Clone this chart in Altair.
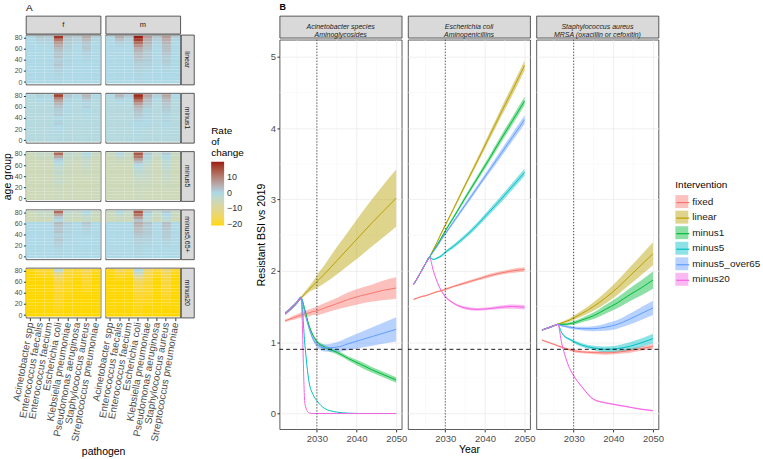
import altair as alt
import pandas as pd

FONT = "Liberation Sans"

# ---------------- Panel A data ----------------
pathogens = ["Acinetobacter spp", "Enterococcus faecalis", "Enterococcus faecium",
             "Escherichia coli", "Klebsiella pneumoniae", "Pseudomonas aeruginosa",
             "Staphylococcus aureus", "Streptococcus pneumoniae"]
ages = [0, 5, 10, 15, 20, 25, 30, 35, 40, 45, 50, 55, 60, 65, 70, 75, 80]
sexes = ["f", "m"]
interventions_a = ["linear", "minus1", "minus5", "minus5,65+", "minus20"]

base_linear = [0, 0, 0, 0, 0, 0, 0, 0, 0, 0, 0, 0, 0, 0, 0, 0, 0]
base_minus1 = [-1, -1, -1, -1, -1, -1, -1, -1, -1, -1, -1, -1, -1, -1, -1, -1, -1]
base_minus5 = [-5.5, -5.5, -5.5, -5.5, -5.5, -5.5, -5.5, -5.5, -5.5, -5.5, -5.5, -5.5, -5.5, -5.5, -5.5, -5.5, -5.5]
base_minus5_65 = [0, 0, 0, 0, 0, 0, 0, 0, 0, 0, 0, 0, 0, -5.5, -5.5, -5.5, -5.5]
base_minus20 = [-21, -21, -21, -21, -21, -21, -21, -21, -21, -21, -21, -21, -21, -21, -21, -21, -21]

trend_f = {
    "Acinetobacter spp":        [0, 0, 0, 0, 0, 0, 0, 0, 0, 0, 0, 0, 0, 0, 0, 0, 0.3],
    "Enterococcus faecalis":    [0, 0, 0, 0, 0, 0, 0, 0, 0, 0, 0, 0, 0, 0, 0.5, 1, 2],
    "Enterococcus faecium":     [0, 0, 0, 0, 0, 0, 0, 0, 0, 0, 0, 0, 0, 0, 0.5, 1, 1.5],
    "Escherichia coli":         [0.3, 0.3, 0.3, 0.5, 0.8, 1, 2, 1.5, 1, 2.5, 2, 2.5, 3.5, 5, 7, 11, 18],
    "Klebsiella pneumoniae":    [0, 0, 0, 0, 0, 0, 0.3, 0.3, 0.3, 0.5, 0.5, 0.5, 1, 1, 1.5, 2, 3],
    "Pseudomonas aeruginosa":   [0, 0, 0, 0, 0, 0, 0, 0, 0, 0, 0, 0, 0, 0, 0.5, 1, 1.5],
    "Staphylococcus aureus":    [0, 0, 0, 0, 0, 0, 0, 0, 0.3, 0.5, 0.8, 1, 2, 1.5, 2, 3.5, 5],
    "Streptococcus pneumoniae": [0, 0, 0, 0, 0, 0, 0, 0, 0, 0, 0, 0, 0, 0, 0, 0.5, 1],
}
trend_m = {
    "Acinetobacter spp":        [0, 0, 0, 0, 0, 0, 0, 0, 0, 0, 0, 0, 0, 0, 0, 0.3, 0.5],
    "Enterococcus faecalis":    [0, 0, 0, 0, 0, 0, 0, 0, 0, 0, 0, 0, 0, 0.5, 1, 2.5, 5],
    "Enterococcus faecium":     [0, 0, 0, 0, 0, 0, 0, 0, 0, 0, 0, 0, 0, 0, 0.5, 1, 2],
    "Escherichia coli":         [0.3, 0.3, 0.3, 0.5, 0.5, 1, 1, 1.5, 2, 3, 3, 4, 5, 8, 12, 17, 20],
    "Klebsiella pneumoniae":    [0, 0, 0, 0, 0.3, 0.5, 0.8, 1, 1.5, 1.5, 1.5, 1.5, 2.5, 3, 4, 5, 7],
    "Pseudomonas aeruginosa":   [0, 0, 0, 0, 0, 0, 0, 0, 0, 0, 0, 0, 0, 0, 0.5, 1, 2],
    "Staphylococcus aureus":    [0, 0, 0, 0, 0.3, 0.5, 0.8, 1.5, 1.5, 1.5, 2, 2.5, 3, 3, 4, 5, 7],
    "Streptococcus pneumoniae": [0, 0, 0, 0, 0, 0, 0, 0, 0, 0, 0, 0, 0, 0, 0, 0.5, 1],
}
bases = {"linear": base_linear, "minus1": base_minus1, "minus5": base_minus5,
         "minus5,65+": base_minus5_65, "minus20": base_minus20}
trends = {"f": trend_f, "m": trend_m}

# ---------------- Panel B data ----------------
years = [2022, 2023, 2024, 2025, 2026, 2027, 2028, 2029, 2030, 2032, 2035, 2038, 2041, 2044, 2047, 2050]
interventions_b = ["fixed", "linear", "minus1", "minus5", "minus5_over65", "minus20"]
iv_colors = ["#F8766D", "#B79F00", "#00BA38", "#00BFC4", "#619CFF", "#F564E3"]

panel_keys = ["acin", "ecoli", "saur"]
panel_strips = ["Acinetobacter species\nAminoglycosides",
                "Escherichia coli\nAminopenicillins",
                "Staphylococcus aureus\nMRSA (oxacillin or cefoxitin)"]

acin_mid = {
    "fixed":         [1.30, 1.32, 1.34, 1.36, 1.38, 1.40, 1.41, 1.43, 1.44, 1.48, 1.54, 1.60, 1.65, 1.69, 1.73, 1.76],
    "linear":        [1.40, 1.45, 1.50, 1.56, 1.62, 1.68, 1.74, 1.79, 1.85, 1.96, 2.14, 2.32, 2.50, 2.68, 2.85, 3.02],
    "minus1":        [1.40, 1.45, 1.50, 1.56, 1.62, 1.45, 1.24, 1.10, 1.01, 0.93, 0.86, 0.77, 0.69, 0.61, 0.54, 0.47],
    "minus5":        [1.40, 1.45, 1.50, 1.56, 1.62, 0.95, 0.45, 0.27, 0.18, 0.07, 0.02, 0.005, 0.0, 0.0, 0.0, 0.0],
    "minus5_over65": [1.40, 1.45, 1.50, 1.56, 1.62, 1.40, 1.20, 1.05, 0.97, 0.92, 0.93, 0.98, 1.03, 1.08, 1.13, 1.18],
    "minus20":       [1.40, 1.45, 1.50, 1.56, 1.62, 0.13, 0.01, 0.0, 0.0, 0.0, 0.0, 0.0, 0.0, 0.0, 0.0, 0.0],
}
acin_half = {
    "fixed":         [0.02, 0.02, 0.03, 0.03, 0.04, 0.04, 0.05, 0.05, 0.06, 0.07, 0.08, 0.10, 0.11, 0.12, 0.14, 0.15],
    "linear":        [0.02, 0.02, 0.02, 0.02, 0.02, 0.03, 0.04, 0.06, 0.09, 0.13, 0.19, 0.24, 0.29, 0.33, 0.37, 0.40],
    "minus1":        [0.02, 0.02, 0.02, 0.02, 0.02, 0.02, 0.02, 0.02, 0.02, 0.03, 0.03, 0.03, 0.04, 0.04, 0.04, 0.04],
    "minus5":        [0.02, 0.02, 0.02, 0.02, 0.02, 0.01, 0.01, 0.0, 0.0, 0.0, 0.0, 0.0, 0.0, 0.0, 0.0, 0.0],
    "minus5_over65": [0.02, 0.02, 0.02, 0.02, 0.02, 0.02, 0.02, 0.03, 0.04, 0.05, 0.07, 0.09, 0.11, 0.13, 0.15, 0.17],
    "minus20":       [0.02, 0.02, 0.02, 0.02, 0.02, 0.0, 0.0, 0.0, 0.0, 0.0, 0.0, 0.0, 0.0, 0.0, 0.0, 0.0],
}
ecoli_mid = {
    "fixed":         [1.60, 1.62, 1.64, 1.65, 1.67, 1.69, 1.71, 1.72, 1.74, 1.78, 1.83, 1.88, 1.93, 1.97, 2.00, 2.02],
    "linear":        [1.81, 1.90, 2.00, 2.10, 2.19, 2.30, 2.41, 2.53, 2.64, 2.86, 3.20, 3.53, 3.87, 4.21, 4.54, 4.88],
    "minus1":        [1.81, 1.90, 2.00, 2.10, 2.19, 2.28, 2.37, 2.46, 2.56, 2.74, 3.02, 3.29, 3.56, 3.84, 4.11, 4.38],
    "minus5":        [1.81, 1.90, 2.00, 2.10, 2.19, 2.16, 2.18, 2.21, 2.26, 2.34, 2.48, 2.64, 2.82, 3.00, 3.19, 3.38],
    "minus5_over65": [1.81, 1.90, 2.00, 2.10, 2.19, 2.27, 2.35, 2.44, 2.52, 2.68, 2.92, 3.16, 3.40, 3.64, 3.88, 4.12],
    "minus20":       [1.81, 1.90, 2.00, 2.10, 2.19, 2.00, 1.84, 1.72, 1.64, 1.55, 1.48, 1.46, 1.47, 1.49, 1.50, 1.49],
}
ecoli_half = {
    "fixed":         [0.01, 0.01, 0.01, 0.01, 0.01, 0.01, 0.01, 0.01, 0.015, 0.015, 0.02, 0.02, 0.025, 0.025, 0.03, 0.03],
    "linear":        [0.01, 0.01, 0.01, 0.01, 0.01, 0.01, 0.015, 0.02, 0.02, 0.025, 0.03, 0.04, 0.05, 0.06, 0.07, 0.07],
    "minus1":        [0.01, 0.01, 0.01, 0.01, 0.01, 0.01, 0.015, 0.02, 0.02, 0.025, 0.03, 0.035, 0.04, 0.05, 0.055, 0.06],
    "minus5":        [0.01, 0.01, 0.01, 0.01, 0.01, 0.01, 0.015, 0.02, 0.02, 0.025, 0.03, 0.035, 0.04, 0.045, 0.05, 0.05],
    "minus5_over65": [0.01, 0.01, 0.01, 0.01, 0.01, 0.01, 0.015, 0.02, 0.02, 0.025, 0.03, 0.035, 0.04, 0.05, 0.055, 0.06],
    "minus20":       [0.01, 0.01, 0.01, 0.01, 0.01, 0.01, 0.01, 0.01, 0.015, 0.015, 0.02, 0.02, 0.02, 0.025, 0.03, 0.03],
}
saur_mid = {
    "fixed":         [1.03, 1.01, 0.99, 0.97, 0.95, 0.93, 0.91, 0.895, 0.88, 0.865, 0.855, 0.85, 0.86, 0.88, 0.91, 0.94],
    "linear":        [1.17, 1.19, 1.21, 1.23, 1.25, 1.27, 1.29, 1.31, 1.34, 1.40, 1.50, 1.62, 1.76, 1.92, 2.08, 2.24],
    "minus1":        [1.17, 1.19, 1.21, 1.23, 1.25, 1.25, 1.25, 1.26, 1.27, 1.31, 1.37, 1.46, 1.55, 1.66, 1.76, 1.87],
    "minus5":        [1.17, 1.19, 1.21, 1.23, 1.25, 1.13, 1.07, 1.04, 1.01, 0.96, 0.92, 0.90, 0.91, 0.94, 0.99, 1.05],
    "minus5_over65": [1.17, 1.19, 1.21, 1.23, 1.25, 1.23, 1.22, 1.21, 1.20, 1.19, 1.19, 1.21, 1.25, 1.32, 1.40, 1.48],
    "minus20":       [1.17, 1.19, 1.21, 1.23, 1.25, 0.98, 0.78, 0.63, 0.53, 0.38, 0.20, 0.15, 0.12, 0.09, 0.06, 0.04],
}
saur_half = {
    "fixed":         [0.01, 0.01, 0.01, 0.01, 0.01, 0.015, 0.015, 0.015, 0.02, 0.02, 0.02, 0.025, 0.025, 0.03, 0.03, 0.035],
    "linear":        [0.01, 0.01, 0.01, 0.01, 0.01, 0.015, 0.02, 0.025, 0.03, 0.04, 0.06, 0.08, 0.10, 0.12, 0.14, 0.16],
    "minus1":        [0.01, 0.01, 0.01, 0.01, 0.01, 0.015, 0.02, 0.02, 0.025, 0.03, 0.045, 0.06, 0.075, 0.09, 0.105, 0.12],
    "minus5":        [0.01, 0.01, 0.01, 0.01, 0.01, 0.01, 0.015, 0.015, 0.02, 0.025, 0.03, 0.04, 0.045, 0.055, 0.06, 0.07],
    "minus5_over65": [0.01, 0.01, 0.01, 0.01, 0.01, 0.01, 0.015, 0.02, 0.02, 0.025, 0.035, 0.05, 0.06, 0.075, 0.09, 0.10],
    "minus20":       [0.01, 0.01, 0.01, 0.01, 0.01, 0.01, 0.01, 0.01, 0.01, 0.01, 0.01, 0.01, 0.01, 0.01, 0.01, 0.01],
}
mids = {"acin": acin_mid, "ecoli": ecoli_mid, "saur": saur_mid}
halves = {"acin": acin_half, "ecoli": ecoli_half, "saur": saur_half}

minor_x = [2025, 2035, 2045]
minor_y = [0.5, 1.5, 2.5, 3.5, 4.5]
vline_year = [2030]
hline_value = [0.9]

# ---------------- tables ----------------
rows = []
for s in sexes:
    for iv in interventions_a:
        for p in pathogens:
            for i, a in enumerate(ages):
                rows.append({"sex": s, "intervention": iv, "pathogen": p,
                             "age_lo": a - 2.5, "age_hi": a + 2.5,
                             "value": bases[iv][i] + trends[s][p][i]})
heat_df = pd.DataFrame(rows)

lrows = []
for pk in panel_keys:
    for iv in interventions_b:
        for j, y in enumerate(years):
            m = mids[pk][iv][j]
            h = halves[pk][iv][j]
            lrows.append({"pk": pk, "iv": iv, "iv_l": iv + " ", "year": y,
                          "mid": m, "lo": max(m - h, 0), "hi": m + h})
lines_df = pd.DataFrame(lrows)

# ---------------- styling ----------------
GRID = "#EBEBEB"
TXT = "#4D4D4D"
BORDER = alt.ViewBackground(stroke="#333333", strokeWidth=0.8)
STRIP_BG = alt.ViewBackground(fill="#D9D9D9", stroke="#333333", strokeWidth=0.8)

heat_scale = alt.Scale(domain=[-21, 0, 20], range=["#FFD700", "#ADD8E6", "#9A1C12"], interpolate="lab")

HW, HH = 75, 50


def strip(text, w, h, angle=0, size=7.5, italic=False, title=None):
    ch = alt.Chart(pd.DataFrame({"label": [text]})).mark_text(
        fontSize=size, color="#1A1A1A", angle=angle, lineBreak="\n", lineHeight=8,
        fontStyle="italic" if italic else "normal", font=FONT
    ).encode(text="label:N")
    if title is not None:
        return ch.properties(width=w, height=h, view=STRIP_BG, title=title)
    return ch.properties(width=w, height=h, view=STRIP_BG)


def heat(sex, iv, left, bottom, show_legend):
    if left:
        ya = alt.Axis(values=[0, 20, 40, 60, 80], title="age group" if iv == "minus5" else None,
                      labelFontSize=7, labelColor=TXT, tickSize=2.5, tickColor="#333333",
                      domain=False, grid=False, labelPadding=1.5, titleFontSize=10.5,
                      titleFontWeight="normal", titleColor="#000000", titlePadding=2)
    else:
        ya = None
    if bottom:
        if sex == "f":
            xa = alt.Axis(title="pathogen", labelAngle=-80, labelAlign="right", labelBaseline="middle",
                          labelFontSize=10, labelColor=TXT, tickSize=3, tickColor="#333333",
                          domain=False, grid=False, labelPadding=1.5, titleFontSize=10.5,
                          titleFontWeight="normal", titleColor="#000000",
                          titleX=HW + 2.5, titleY=129, titleBaseline="top")
        else:
            xa = alt.Axis(title=None, labelAngle=-80, labelAlign="right", labelBaseline="middle",
                          labelFontSize=10, labelColor=TXT, tickSize=3, tickColor="#333333",
                          domain=False, grid=False, labelPadding=1.5)
    else:
        xa = None
    if show_legend:
        leg = alt.Legend(title=["Rate", "of", "change"], orient="none", legendX=186, legendY=111,
                         gradientLength=64, gradientThickness=13, values=[10, 0, -10, -20],
                         labelFontSize=9, labelColor="#333333", titleFontSize=10,
                         titleFontWeight="normal", titleLineHeight=10.7, titlePadding=4,
                         labelOffset=3, gradientStrokeWidth=0, direction="vertical")
    else:
        leg = None
    return alt.Chart(heat_df).transform_filter(
        (alt.datum.sex == sex) & (alt.datum.intervention == iv)
    ).mark_rect().encode(
        x=alt.X("pathogen:N", sort=pathogens, scale=alt.Scale(paddingInner=0, paddingOuter=0), axis=xa),
        y=alt.Y("age_lo:Q", scale=alt.Scale(domain=[-4.5, 84.5], nice=False, zero=False), axis=ya),
        y2="age_hi:Q",
        color=alt.Color("value:Q", scale=heat_scale, legend=leg),
    ).properties(width=HW, height=HH, view=BORDER)


header_a = alt.hconcat(
    strip("f", HW, 18, title=alt.TitleParams("A", anchor="start", frame="group", fontSize=10,
                                            fontWeight="normal", offset=3, font=FONT)),
    strip("m", HW, 18),
    spacing=5, bounds="flush",
)
rows_a = []
for k, iv in enumerate(interventions_a):
    bottom = k == len(interventions_a) - 1
    rows_a.append(alt.hconcat(
        heat("f", iv, True, bottom, k == 0),
        alt.hconcat(heat("m", iv, False, bottom, False), strip(iv, 13, HH, angle=90, size=7),
                    spacing=0.7, bounds="flush"),
        spacing=5, bounds="flush",
    ))
panel_a = alt.vconcat(alt.vconcat(header_a, rows_a[0], spacing=-2.7), *rows_a[1:], spacing=5.5)

# ---------------- Panel B ----------------
PW, PH = 122.6, 391
xs = alt.Scale(domain=[2020.6, 2051.4], nice=False, zero=False)
ys = alt.Scale(domain=[-0.22, 5.24], nice=False, zero=False)
fill_scale = alt.Scale(domain=interventions_b, range=iv_colors)
stroke_scale = alt.Scale(domain=[v + " " for v in interventions_b], range=iv_colors)

LEG_X, LEG_Y = 652, 165


def line_panel(idx):
    pk = panel_keys[idx]
    xa = alt.Axis(values=[2030, 2040, 2050], format="d", title="Year" if idx == 1 else None,
                  grid=True, gridColor=GRID, gridWidth=0.8, domain=False, tickColor="#333333",
                  tickSize=2.7, labelFontSize=9.5, labelColor=TXT, labelPadding=1.5,
                  titleFontSize=10.5, titleFontWeight="normal", titleColor="#000000", titlePadding=2)
    ya = alt.Axis(values=[0, 1, 2, 3, 4, 5], title="Resistant BSI vs 2019" if idx == 0 else None,
                  labels=idx == 0, ticks=idx == 0, grid=True, gridColor=GRID, gridWidth=0.8,
                  domain=False, tickColor="#333333", tickSize=2.7, labelFontSize=9.5,
                  labelColor=TXT, labelPadding=1.5, titleFontSize=10.5, titleFontWeight="normal",
                  titleColor="#000000", titlePadding=4)
    first = idx == 0
    fill_leg = alt.Legend(title="Intervention", orient="none", legendX=LEG_X, legendY=LEG_Y,
                          symbolType="square", symbolSize=169, symbolOpacity=0.45,
                          symbolStrokeWidth=0, labelFontSize=10, titleFontSize=10,
                          titleFontWeight="normal", rowPadding=2.6, labelOffset=4,
                          titlePadding=5, labelColor="#1A1A1A") if first else None
    # second legend drawn on top of the first: only the line symbols, no visible text
    stroke_leg = alt.Legend(title=" ", orient="none", legendX=LEG_X, legendY=LEG_Y,
                            symbolType="stroke", symbolSize=169, symbolStrokeWidth=1.2,
                            labelFontSize=10, titleFontSize=10, titleFontWeight="normal",
                            rowPadding=2.6, labelOffset=4, titlePadding=5,
                            labelExpr="''", titleOpacity=0) if first else None

    base = alt.Chart(lines_df).transform_filter(alt.datum.pk == pk)
    gx = alt.Chart(pd.DataFrame({"v": minor_x})).mark_rule(color="#F4F4F4", strokeWidth=0.5).encode(
        x=alt.X("v:Q", scale=xs, axis=xa))
    gy = alt.Chart(pd.DataFrame({"v": minor_y})).mark_rule(color="#F4F4F4", strokeWidth=0.5).encode(
        y=alt.Y("v:Q", scale=ys, axis=ya))
    band = base.mark_area(fillOpacity=0.45, interpolate="monotone").encode(
        x=alt.X("year:Q", scale=xs, axis=xa),
        y=alt.Y("lo:Q", scale=ys, axis=ya),
        y2="hi:Q",
        fill=alt.Fill("iv:N", scale=fill_scale, legend=fill_leg),
    )
    line = base.mark_line(strokeWidth=1, interpolate="monotone").encode(
        x=alt.X("year:Q", scale=xs, axis=xa),
        y=alt.Y("mid:Q", scale=ys, axis=ya),
        stroke=alt.Stroke("iv_l:N", scale=stroke_scale, legend=stroke_leg),
    )
    vl = alt.Chart(pd.DataFrame({"v": vline_year})).mark_rule(
        color="#333333", strokeWidth=0.9, strokeDash=[1.2, 1.8]).encode(x=alt.X("v:Q", scale=xs, axis=xa))
    hl = alt.Chart(pd.DataFrame({"v": hline_value})).mark_rule(
        color="#000000", strokeWidth=0.9, strokeDash=[4, 3]).encode(y=alt.Y("v:Q", scale=ys, axis=ya))
    return alt.layer(gx, gy, band, line, vl, hl).properties(width=PW, height=PH, view=BORDER)


header_b = alt.hconcat(
    strip(panel_strips[0], PW, 22, size=7, italic=True,
          title=alt.TitleParams("B", anchor="start", frame="group", fontSize=9,
                                fontWeight="bold", offset=4, font=FONT)),
    strip(panel_strips[1], PW, 22, size=7, italic=True),
    strip(panel_strips[2], PW, 22, size=7, italic=True),
    spacing=5.9, bounds="flush",
)
plots_b = alt.hconcat(line_panel(0), line_panel(1), line_panel(2), spacing=5.9, bounds="flush")
panel_b = alt.vconcat(header_b, plots_b, spacing=0)

chart = alt.hconcat(panel_a, panel_b, spacing=60.7).properties(
    padding={"left": 1, "top": 1, "right": 2, "bottom": 0}
).configure(font=FONT).configure_view(stroke="transparent")

chart.save("out.html", embed_options={"renderer": "svg", "actions": False})
